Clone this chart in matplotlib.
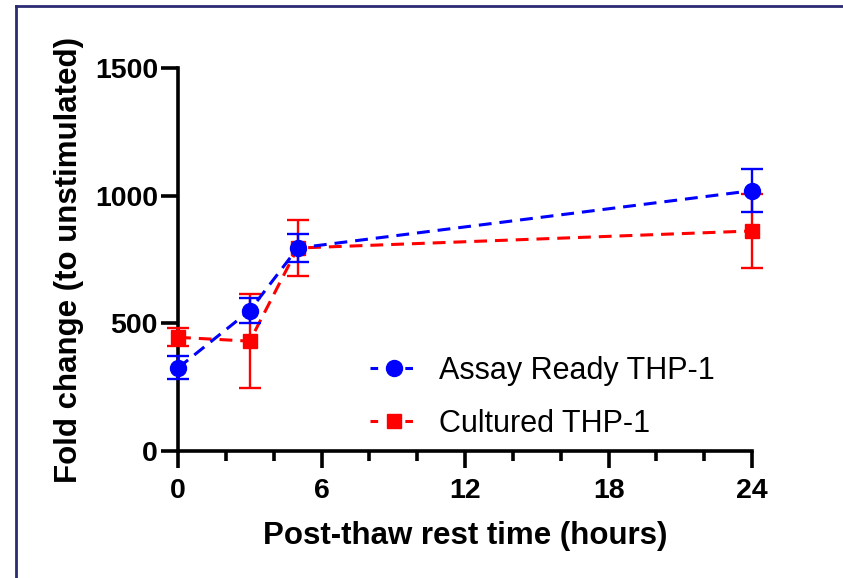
import numpy as np
import matplotlib.pyplot as plt
from matplotlib.lines import Line2D

# data
hours = [0, 3, 5, 24]
assay_ready = [325, 550, 795, 1020]
assay_ready_err = [45, 50, 55, 83]
cultured = [445, 430, 795, 862]
cultured_err = [35, 185, 110, 145]

blue = '#0000ff'
red = '#ff0000'

plt.rcParams['font.family'] = ['Liberation Sans', 'DejaVu Sans']

fig = plt.figure(figsize=(8.43, 5.78), dpi=100)
ax = fig.add_axes([0.2112, 0.22, 0.681, 0.662])

ax.errorbar(hours, assay_ready, yerr=assay_ready_err, color=blue, ls='--', lw=2.2,
            marker='o', ms=11.5, capsize=8, elinewidth=1.7, capthick=1.7,
            dashes=(4.2, 2.6), clip_on=False, zorder=4)
ax.errorbar(hours, cultured, yerr=cultured_err, color=red, ls='--', lw=2.2,
            marker='s', ms=10.5, capsize=8, elinewidth=1.7, capthick=1.7,
            dashes=(4.2, 2.6), clip_on=False, zorder=3)

ax.set_xlim(0, 24)
ax.set_ylim(0, 1500)
ax.set_xticks([0, 6, 12, 18, 24])
ax.set_xticks(np.arange(0, 25, 2), minor=True)
ax.set_yticks([0, 500, 1000, 1500])

for s in ['top', 'right']:
    ax.spines[s].set_visible(False)
for s in ['left', 'bottom']:
    ax.spines[s].set_linewidth(2.6)

ax.tick_params(axis='both', which='major', length=12.5, width=2.6, labelsize=20.5)
ax.tick_params(axis='y', which='major', pad=2)
ax.tick_params(axis='x', which='major', pad=7)
ax.tick_params(axis='x', which='minor', length=7.5, width=2.6)
for lbl in ax.get_xticklabels() + ax.get_yticklabels():
    lbl.set_fontweight('bold')

ax.set_xlabel('Post-thaw rest time (hours)', fontsize=22.5, fontweight='bold', labelpad=12)
ax.set_ylabel('Fold change (to unstimulated)', fontsize=22.5, fontweight='bold', labelpad=8)

handles = [
    Line2D([], [], color=blue, ls='--', lw=2.2, dashes=(2.5, 3.2), marker='o', ms=11.5),
    Line2D([], [], color=red, ls='--', lw=2.2, dashes=(2.5, 3.2), marker='s', ms=10.5),
]
ax.legend(handles, ['Assay Ready THP-1', 'Cultured THP-1'], loc='lower left',
          bbox_to_anchor=(0.287, -0.04), frameon=False, fontsize=22,
          handlelength=1.55, labelspacing=0.75, handletextpad=0.7)

# frame lines around the picture
fig.add_artist(Line2D([16 / 843, 1], [1 - 6 / 578, 1 - 6 / 578], color='#2b2b73', lw=2))
fig.add_artist(Line2D([16 / 843, 16 / 843], [0, 1 - 6 / 578], color='#2b2b73', lw=2))

fig.savefig('out.png', dpi=100)
